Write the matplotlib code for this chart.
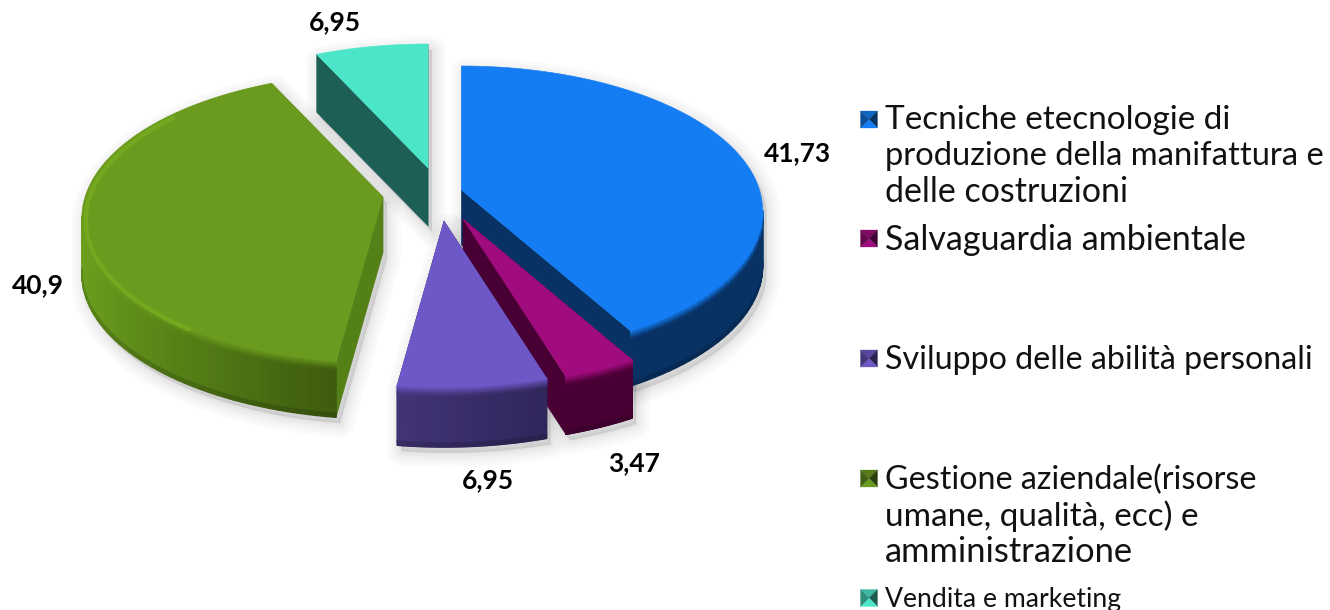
import numpy as np
import matplotlib
matplotlib.use("Agg")
import matplotlib.pyplot as plt
from matplotlib.collections import PolyCollection

# ---- data ----
values = [41.73, 3.47, 6.95, 40.9, 6.95]
value_labels = ["41,73", "3,47", "6,95", "40,9", "6,95"]
legend_lines = [
    ["Tecniche etecnologie di", "produzione della manifattura e", "delle costruzioni"],
    ["Salvaguardia ambientale"],
    ["Sviluppo delle abilità personali"],
    ["Gestione aziendale(risorse", "umane, qualità, ecc) e", "amministrazione"],
    ["Vendita e marketing"],
]

# ---- style / layout (pixels) ----
top_cols = [(20, 125, 243), (160, 12, 125), (110, 88, 200), (107, 155, 30), (75, 230, 200)]
cut_cols = [(8, 50, 100), (72, 0, 52), (50, 38, 95), (84, 128, 24), (30, 95, 85)]
side_l = [(8, 50, 100), (72, 0, 52), (66, 52, 118), (108, 160, 30), (30, 95, 85)]
side_r = [(8, 50, 100), (72, 0, 52), (48, 38, 90), (62, 92, 14), (30, 95, 85)]
apex = [(461.5, 190), (463, 219), (444, 221), (383, 197), (428, 168)]
depth = [55, 58, 60, 56, 58]
order = [4, 3, 0, 1, 2]
R, S, P = 298.0, 142.0, 0.145
label_xy = [(797, 153), (634, 463), (488, 480), (38, 285), (335, 22)]
legend_x = 885
legend_y = [[120, 156, 192], [240], [360], [480, 516, 552], [600]]
legend_size = [[24.0, 23.6, 24.5], [24.5], [23.2], [23.2, 24.0, 24.8], [19.2]]
marker_y = [119.5, 238.5, 358.5, 478.5, 598]

def c(rgb, a=None):
    t = tuple(v / 255 for v in rgb)
    return t if a is None else t + (a,)

def mix(a, b, t):
    return tuple(a[i] + (b[i] - a[i]) * t for i in range(3))

def rim(ax0, ay0, th):
    u, v = np.sin(th), np.cos(th)
    w = 1 + P * v
    return ax0 + R * u / w, ay0 - S * v / w

def hull(pts):
    pts = sorted(set(map(tuple, pts)))
    def half(seq):
        h = []
        for p in seq:
            while len(h) > 1 and ((h[-1][0]-h[-2][0])*(p[1]-h[-2][1]) - (h[-1][1]-h[-2][1])*(p[0]-h[-2][0])) <= 0:
                h.pop()
            h.append(p)
        return h[:-1]
    return half(pts) + half(pts[::-1])

plt.rcParams['font.family'] = ['Lato', 'DejaVu Sans']
fig = plt.figure(figsize=(13.3, 6.1), dpi=100)
ax = fig.add_axes([0, 0, 1, 1])
ax.set_xlim(0, 1330)
ax.set_ylim(610, 0)
ax.axis('off')

edges = np.concatenate([[0], np.cumsum(values)]) / sum(values) * 2 * np.pi
geom = []
for i in range(len(values)):
    th = np.linspace(edges[i], edges[i + 1], 90)
    x, y = rim(apex[i][0], apex[i][1], th)
    geom.append((th, x, y))

# soft shadows
for i in range(len(values)):
    th, x, y = geom[i]
    ax0, ay0 = apex[i]
    d = depth[i]
    pts = list(zip(x, y)) + list(zip(x, y + d)) + [(ax0, ay0), (ax0, ay0 + d)]
    h = np.array(hull(pts)) + np.array([4, 6])
    for lw in [20, 15, 10, 6, 3]:
        ax.fill(h[:, 0], h[:, 1], facecolor=(0, 0, 0, 0.02), edgecolor=(0, 0, 0, 0.02),
                lw=lw, joinstyle='round', zorder=1)

z = 10
for i in order:
    th, x, y = geom[i]
    ax0, ay0 = apex[i]
    d = depth[i]
    # cut faces
    for ex, ey in [(x[0], y[0]), (x[-1], y[-1])]:
        ax.fill([ax0, ex, ex, ax0], [ay0, ey, ey + d, ay0 + d], color=c(cut_cols[i]), lw=0.3, zorder=z)
    z += 1
    # outer wall: a mesh of small cells shaded across and down
    fr = np.array([0, .03, .06, .09, .12, .16, .93, 1.0])
    polys, cols = [], []
    xmin, xmax = x.min(), x.max()
    for k in range(len(x) - 1):
        if x[k + 1] >= x[k]:
            continue
        t = (xmax - 0.5 * (x[k] + x[k + 1])) / max(xmax - xmin, 1)
        if i == 3:
            xs = float(np.clip((0.5 * (x[k] + x[k + 1]) - 80) / (335 - 80), 0, 1))
            base = mix(side_l[i], side_r[i], xs ** 0.8)
        else:
            base = mix(side_r[i], side_l[i], t)
        for j in range(len(fr) - 1):
            f0, f1 = fr[j], fr[j + 1]
            polys.append([(x[k], y[k] + d * f0), (x[k + 1], y[k + 1] + d * f0),
                          (x[k + 1], y[k + 1] + d * f1), (x[k], y[k] + d * f1)])
            fm = 0.5 * (f0 + f1)
            if fm < 0.16:
                col = mix(top_cols[i], base, fm / 0.16)
            elif fm > 0.93:
                col = mix(base, (0.6 * base[0], 0.6 * base[1], 0.6 * base[2]), 0.4)
            else:
                col = base
            cols.append(c(col))
    ax.add_collection(PolyCollection(polys, facecolors=cols, edgecolors=cols, linewidths=1.0, zorder=z))
    z += 1
    # top face
    ax.fill(np.r_[ax0, x], np.r_[ay0, y], color=c(top_cols[i]), lw=0.4, zorder=z)
    z += 1
    # lighter bevel just inside the left part of the green rim
    if i == 3:
        m = (th > np.radians(215)) & (th < np.radians(310))
        ax.plot(x[m] + 4, y[m] + 2, color=c((118, 172, 32), 0.85), lw=3, zorder=z, solid_capstyle='round')
    z += 1

# data labels
for i, txt in enumerate(value_labels):
    ax.text(label_xy[i][0], label_xy[i][1], txt, ha='center', va='center', fontsize=19,
            fontweight='bold', color='black', zorder=100)

# legend
ms = 8.5
for i, lines in enumerate(legend_lines):
    mx, my = 869, marker_y[i]
    top = np.array(top_cols[i], float)
    corners = [(mx - ms, my - ms), (mx + ms, my - ms), (mx + ms, my + ms), (mx - ms, my + ms)]
    tone = [0.8, 0.4, 1.0, 0.62]  # top, right, bottom, left
    for k in range(4):
        a, b = corners[k], corners[(k + 1) % 4]
        ax.fill([a[0], b[0], mx], [a[1], b[1], my], color=c(tuple(top * tone[k])), lw=0.2, zorder=50)
    for line, ly, fs in zip(lines, legend_y[i], legend_size[i]):
        ax.text(legend_x, ly, line, ha='left', va='center', fontsize=fs,
                color='#111111', zorder=100)

fig.savefig("out.png", dpi=100, facecolor='white')
